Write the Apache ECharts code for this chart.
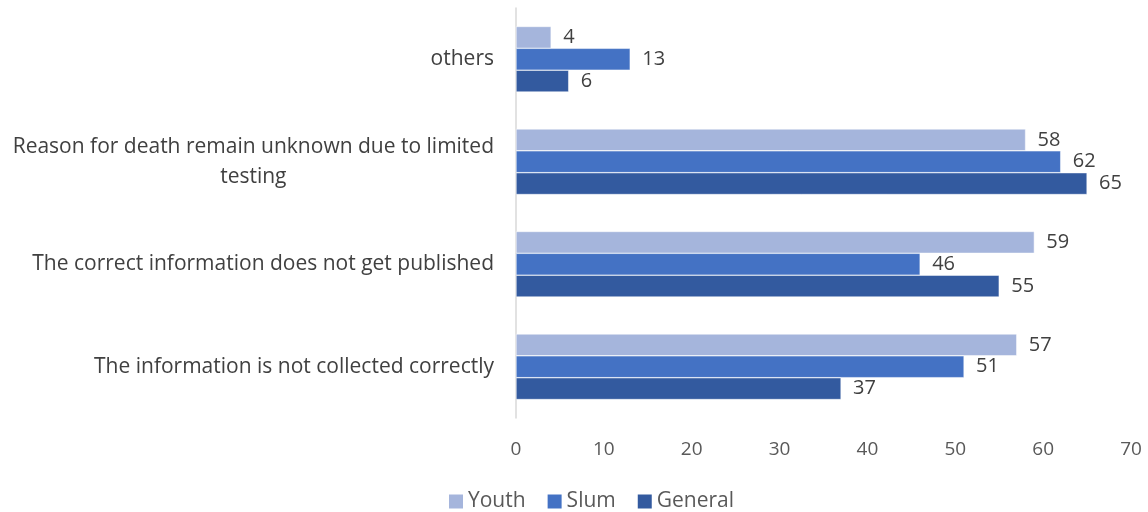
<!DOCTYPE html>
<html><head><meta charset="utf-8">
<script src="https://cdn.jsdelivr.net/npm/echarts@6/dist/echarts.min.js"></script>
<style>html,body{margin:0;padding:0;background:#fff}#c{width:1148px;height:512px}</style>
</head><body><div id="c"></div>
<script>
const categories = ['others', 'Reason for death remain unknown due to limited\ntesting', 'The correct information does not get published', 'The information is not collected correctly'];
const seriesNames = ['Youth', 'Slum', 'General'];
const youth = [4, 58, 59, 57];
const slum = [13, 62, 46, 51];
const general = [6, 65, 55, 37];
const xTicks = [0, 10, 20, 30, 40, 50, 60, 70];

const colors = ['#A5B5DC', '#4472C4', '#335A9F'];
const font = '"Open Sans", sans-serif';
const chart = echarts.init(document.getElementById('c'));
const mk = (name, data, i) => ({
  name, type: 'bar', data, barGap: '0%', barCategoryGap: '36%',
  itemStyle: { color: colors[i], borderColor: '#fff', borderWidth: 0.5 },
  label: { show: true, position: 'right', distance: 12, color: '#404040', fontSize: 20, fontFamily: font },
  animation: false
});
chart.setOption({
  animation: false,
  legend: {
    data: seriesNames, top: 486, left: 444, itemWidth: 14, itemHeight: 14, itemGap: 22, itemStyle: {borderWidth: 0},
    icon: 'rect', textStyle: { fontSize: 21, color: '#595959', fontFamily: font }
  },
  grid: { left: 516, right: 17, top: 8, height: 410, containLabel: false },
  xAxis: {
    type: 'value', min: xTicks[0], max: xTicks[xTicks.length - 1], interval: 10,
    splitLine: { show: false }, axisLine: { show: false }, axisTick: { show: false },
    axisLabel: { fontSize: 19, color: '#595959', margin: 22, fontFamily: font }
  },
  yAxis: {
    type: 'category', data: categories, inverse: true,
    axisLine: { lineStyle: { color: '#D9D9D9', width: 1.5 } }, axisTick: { show: false },
    axisLabel: {
      fontSize: 21, color: '#404040', margin: 22, fontFamily: font, align: 'right', lineHeight: 30,
      formatter: v => '{a|' + v + '}',
      rich: { a: { fontSize: 21, color: '#404040', fontFamily: font, align: 'center', lineHeight: 30 } }
    }
  },
  series: [mk('Youth', youth, 0), mk('Slum', slum, 1), mk('General', general, 2)]
});
</script></body></html>
